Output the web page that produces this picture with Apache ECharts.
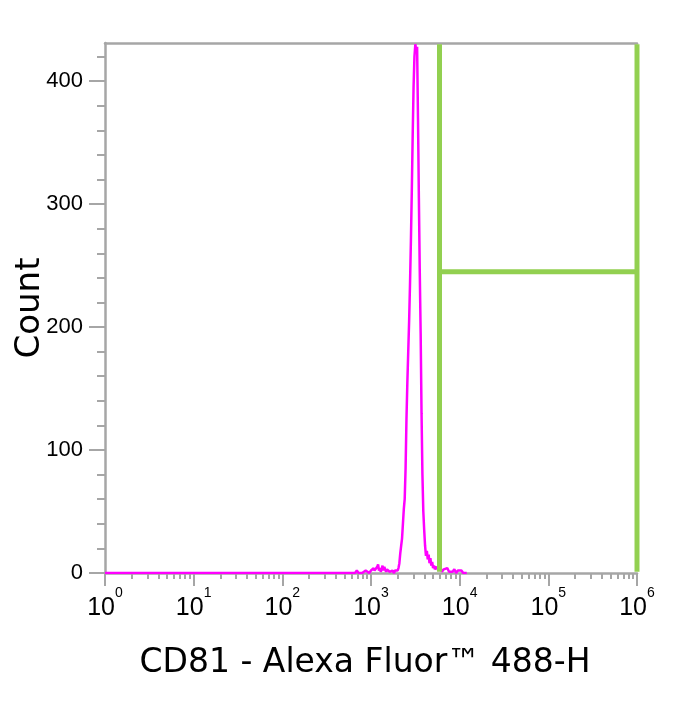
<!DOCTYPE html>
<html>
<head>
<meta charset="utf-8">
<script src="https://cdn.jsdelivr.net/npm/echarts@6/dist/echarts.min.js"></script>
<style>
html,body{margin:0;padding:0;background:#fff;}
#chart{width:682px;height:701px;}
</style>
</head>
<body>
<div id="chart"></div>
<script>
// Histogram bins: channel position given as log10 exponent, and event count
const binExponents = [0, 2.78, 2.80, 2.82, 2.84, 2.86, 2.88, 2.90, 2.92, 2.94, 2.96, 2.98,
  3.00, 3.01, 3.02, 3.03, 3.04, 3.05, 3.06, 3.07, 3.08, 3.09, 3.10, 3.11, 3.12, 3.13, 3.14,
  3.15, 3.16, 3.17, 3.18, 3.19, 3.20, 3.21, 3.22, 3.23, 3.24, 3.25, 3.26, 3.27, 3.28, 3.29,
  3.30, 3.31, 3.32, 3.33, 3.34, 3.35, 3.36, 3.37, 3.38, 3.39, 3.40, 3.41, 3.42, 3.43, 3.44,
  3.45, 3.46, 3.47, 3.48, 3.49, 3.50, 3.51, 3.52, 3.53, 3.54, 3.55, 3.56, 3.57, 3.58, 3.59,
  3.60, 3.61, 3.62, 3.63, 3.64, 3.65, 3.66, 3.67, 3.68, 3.69, 3.70, 3.71, 3.72, 3.74, 3.76,
  3.78, 3.80, 3.82, 3.84, 3.86, 3.88, 3.90, 3.92, 3.94, 3.96, 3.98, 4.00, 4.02, 4.04, 4.06, 4.08];
const binCounts = [0, 0, 1, 0, 2, 0, 1, 0, 1, 2, 1, 0,
  2, 3, 1, 4, 2, 3, 1, 5, 7, 2, 4, 1, 3, 6, 2,
  5, 3, 1, 3, 2, 4, 1, 2, 1, 2, 1, 0, 2, 1, 1,
  2, 4, 8, 16, 22, 28, 40, 52, 60, 85, 125, 155, 180, 205, 235,
  270, 310, 355, 395, 420, 430, 425, 428, 370, 305, 245, 195, 130, 80, 50,
  35, 22, 14, 18, 11, 15, 8, 12, 6, 9, 4, 6, 3, 5, 2,
  4, 1, 3, 2, 4, 1, 2, 1, 3, 0, 2, 1, 2, 0, 1, 0];

// Gate (green bracket)
const gateLeft = 5920;
const gateRight = 1000000;
const gateLevel = 245;
const gateTop = 430;
const gateBottom = 1;

// Axes
const xMin = 1, xMax = 1000000;
const yMin = 0, yMax = 431;
const yMajorTicks = [0, 100, 200, 300, 400];
const yMinorTicks = [20, 40, 60, 80, 120, 140, 160, 180, 220, 240, 260, 280, 320, 340, 360, 380, 420];
const xMajorTicks = [1, 10, 100, 1000, 10000, 100000, 1000000];
const xMinorTicks = [2,3,4,5,6,7,8,9, 20,30,40,50,60,70,80,90, 200,300,400,500,600,700,800,900,
  2000,3000,4000,5000,6000,7000,8000,9000, 20000,30000,40000,50000,60000,70000,80000,90000,
  200000,300000,400000,500000,600000,700000,800000,900000];
const xTitle = 'CD81 - Alexa Fluor™ 488-H';
const yTitle = 'Count';

const histData = binExponents.map((e, i) => [Math.pow(10, e), binCounts[i]]);
const gateData = [
  [gateLeft, gateTop], [gateLeft, gateBottom], null,
  [gateLeft, gateLevel], [gateRight, gateLevel], null,
  [gateRight, gateTop], [gateRight, gateBottom]
].map(p => p ? p : [null, null]);

const axisGrey = '#a6a6a6';
const chart = echarts.init(document.getElementById('chart'), null, {renderer: 'canvas'});
chart.setOption({
  animation: false,
  backgroundColor: '#ffffff',
  grid: {left: 105, right: 45, top: 43, bottom: 128, containLabel: false, outerBoundsMode: 'none'},
  xAxis: [
    {
      type: 'log', logBase: 10, min: xMin, max: xMax, position: 'bottom',
      name: xTitle, nameLocation: 'middle', nameGap: 74, nameMoveOverlap: false,
      nameTextStyle: {fontFamily: 'DejaVu Sans', fontSize: 33, color: '#000', padding: [0, 12, 0, 0]},
      axisLine: {show: true, lineStyle: {color: axisGrey, width: 2.5}},
      axisTick: {show: true, customValues: xMajorTicks, length: 13, lineStyle: {color: axisGrey, width: 2}},
      axisLabel: {
        customValues: xMajorTicks, margin: 13,
        formatter: v => '{b|10}{s|' + Math.round(Math.log10(v)) + '}',
        rich: {
          b: {fontFamily: 'Liberation Sans', fontSize: 25, color: '#000', padding: [8, 0, 0, 0]},
          s: {fontFamily: 'Liberation Sans', fontSize: 14, color: '#000', padding: [0, 0, 23, 0]}
        }
      },
      splitLine: {show: false}, minorTick: {show: false}, minorSplitLine: {show: false}
    },
    {
      type: 'log', logBase: 10, min: xMin, max: xMax, position: 'bottom',
      axisLine: {show: false},
      axisTick: {show: true, customValues: xMinorTicks, length: 6, lineStyle: {color: axisGrey, width: 2}},
      axisLabel: {show: false}, splitLine: {show: false}
    },
    {
      type: 'log', logBase: 10, min: xMin, max: xMax, position: 'top',
      axisLine: {show: true, lineStyle: {color: axisGrey, width: 2.5}},
      axisTick: {show: false}, axisLabel: {show: false}, splitLine: {show: false}
    }
  ],
  yAxis: [
    {
      type: 'value', min: yMin, max: yMax, position: 'left',
      name: yTitle, nameLocation: 'middle', nameGap: 58, nameRotate: 90, nameMoveOverlap: false,
      nameTextStyle: {fontFamily: 'DejaVu Sans', fontSize: 34, color: '#000'},
      axisLine: {show: true, lineStyle: {color: axisGrey, width: 2.5}},
      axisTick: {show: true, customValues: yMajorTicks, length: 16, lineStyle: {color: axisGrey, width: 2}},
      axisLabel: {customValues: yMajorTicks, margin: 22, fontFamily: 'Liberation Sans', fontSize: 22, color: '#000'},
      splitLine: {show: false}
    },
    {
      type: 'value', min: yMin, max: yMax, position: 'left',
      axisLine: {show: false},
      axisTick: {show: true, customValues: yMinorTicks, length: 8, lineStyle: {color: axisGrey, width: 2}},
      axisLabel: {show: false}, splitLine: {show: false}
    }
  ],
  series: [
    {
      type: 'line', xAxisIndex: 0, yAxisIndex: 0, data: histData,
      showSymbol: false, symbol: 'none',
      lineStyle: {color: '#ff00ff', width: 2.5}, z: 3
    },
    {
      type: 'line', xAxisIndex: 0, yAxisIndex: 0, data: gateData,
      showSymbol: false, symbol: 'none', connectNulls: false,
      lineStyle: {color: '#92d050', width: 5, cap: 'butt'}, z: 4
    }
  ]
});
</script>
</body>
</html>
